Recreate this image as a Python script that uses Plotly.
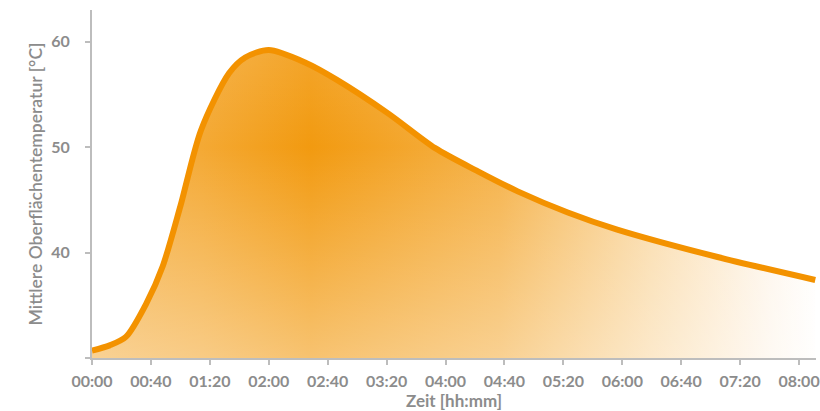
import plotly.graph_objects as go

# Data (time in minutes, temperature in °C)
minutes = [0, 12, 23, 37, 48, 60, 74, 93, 104, 120, 145, 166, 201, 233, 262, 289, 323, 356, 424, 491]
temps = [30.7, 31.2, 32.0, 35.2, 38.7, 44.4, 51.6, 57.0, 58.5, 59.2, 58.0, 56.4, 53.2, 49.9, 47.7, 45.8, 43.8, 42.2, 39.6, 37.4]

x_tickvals = [0, 40, 80, 120, 160, 200, 240, 280, 320, 360, 400, 440, 480]
x_ticktext = ["00:00", "00:40", "01:20", "02:00", "02:40", "03:20", "04:00",
              "04:40", "05:20", "06:00", "06:40", "07:20", "08:00"]
y_tickvals = [30, 40, 50, 60]
y_ticktext = ["", "40", "50", "60"]

ORANGE = "#f39200"
GREY = "#8c8c8c"
AXIS = "#bdbdbd"

fig = go.Figure()

# base area: horizontal gradient
fig.add_trace(go.Scatter(
    x=minutes, y=temps, mode="none", fill="tozeroy",
    line=dict(shape="spline", smoothing=0.8),
    fillgradient=dict(
        type="horizontal", start=0, stop=491.5,
        colorscale=[
            [0.0, "#f5b34c"],
            [0.15, "#f4a934"],
            [0.30, "#f29a10"],
            [0.56, "#f5b249"],
            [0.767, "#fadaa7"],
            [0.93, "#fef5ea"],
            [1.0, "#ffffff"],
        ],
    ),
    hoverinfo="skip", showlegend=False,
))

# vertical white overlay to give a radial feel
fig.add_trace(go.Scatter(
    x=minutes, y=temps, mode="none", fill="tozeroy",
    line=dict(shape="spline", smoothing=0.8),
    fillgradient=dict(
        type="vertical", start=30, stop=60,
        colorscale=[
            [0.0, "rgba(255,255,255,0.40)"],
            [0.333, "rgba(255,255,255,0.20)"],
            [0.667, "rgba(255,255,255,0.0)"],
            [1.0, "rgba(255,255,255,0.12)"],
        ],
    ),
    hoverinfo="skip", showlegend=False,
))

# line
fig.add_trace(go.Scatter(
    x=minutes, y=temps, mode="lines",
    line=dict(color=ORANGE, width=6, shape="spline", smoothing=0.8),
    hoverinfo="skip", showlegend=False,
))

fig.update_layout(
    width=820, height=411,
    margin=dict(l=92, r=0, t=10, b=53),
    paper_bgcolor="white", plot_bgcolor="white",
    font=dict(family="Lato, sans-serif", color=GREY),
    xaxis=dict(
        range=[0, 491.5], tickvals=x_tickvals, ticktext=x_ticktext,
        showgrid=False, zeroline=False, showline=True, linecolor=AXIS, linewidth=2,
        ticks="outside", ticklen=5, tickcolor=AXIS, tickwidth=1.5,
        ticklabelstandoff=3, ticklabeloverflow="allow",
        tickfont=dict(size=16, color=GREY, weight="bold"),
        title=dict(text="Zeit [hh:mm]", font=dict(size=17, color=GREY, weight="bold"), standoff=6),
    ),
    yaxis=dict(
        range=[30, 63], tickvals=y_tickvals, ticktext=y_ticktext,
        showgrid=False, zeroline=False, showline=True, linecolor=AXIS, linewidth=2,
        ticks="outside", ticklen=5, tickcolor=AXIS, tickwidth=1.5,
        ticklabelstandoff=12,
        tickfont=dict(size=16, color=GREY, weight="bold"),
        title=dict(text="Mittlere Oberflächentemperatur [°C]", font=dict(size=17.5, color=GREY, weight=600), standoff=4),
    ),
)

fig.write_html("out.html", config={"displayModeBar": False},
               post_script="document.body.style.margin='0';document.body.style.padding='0';")
